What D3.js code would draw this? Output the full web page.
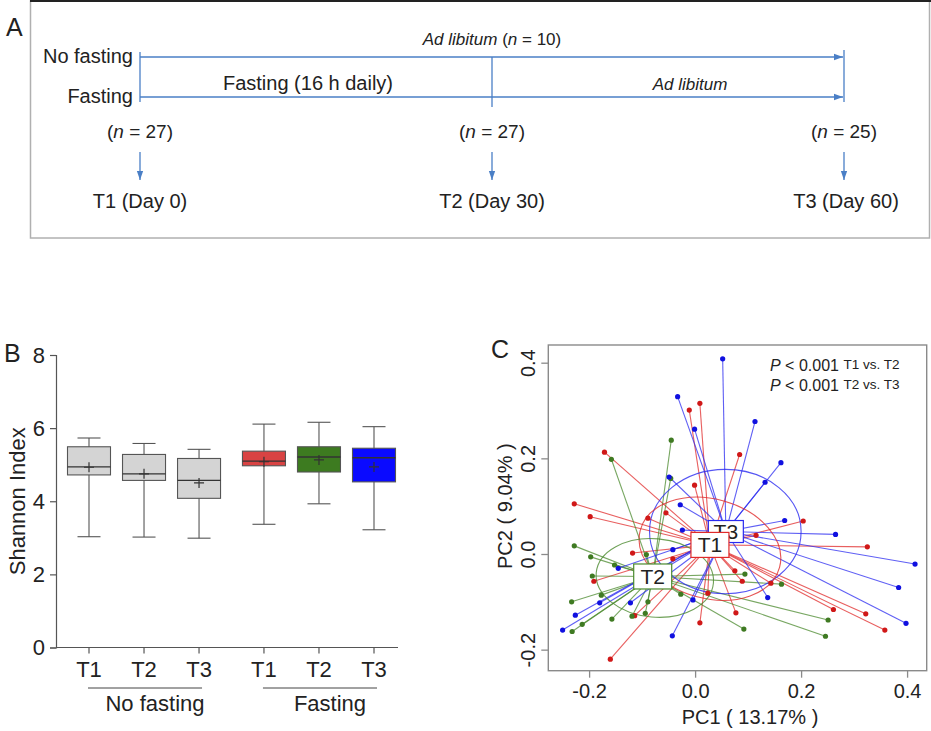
<!DOCTYPE html>
<html>
<head>
<meta charset="utf-8">
<script src="https://cdn.jsdelivr.net/npm/d3@7"></script>
<style>
  body { margin: 0; background: #fff; }
  text { font-family: "Liberation Sans", Arial, sans-serif; fill: #222; }
</style>
</head>
<body>
<div id="fig"></div>
<script>
// ---------- panel A data ----------
const timeLabels = ["T1 (Day 0)", "T2 (Day 30)", "T3 (Day 60)"];
const timeDays = [0, 30, 60];
const sampleN = [27, 27, 25];

// ---------- panel B data ----------
const boxGroups = ["T1", "T2", "T3", "T1", "T2", "T3"];
const whiskerHigh = [5.73, 5.58, 5.42, 6.11, 6.16, 6.04];
const q3 = [5.49, 5.28, 5.17, 5.37, 5.49, 5.45];
const median = [4.94, 4.75, 4.57, 5.10, 5.21, 5.19];
const q1 = [4.72, 4.57, 4.08, 4.97, 4.80, 4.53];
const whiskerLow = [3.03, 3.02, 2.99, 3.37, 3.93, 3.22];
const meanVal = [4.93, 4.75, 4.50, 5.08, 5.13, 4.94];
const boxFill = ["#d4d4d4", "#d4d4d4", "#d4d4d4", "#d94343", "#3d7b20", "#0a0aff"];
const yTicksB = [0, 2, 4, 6, 8];

// ---------- panel C data ----------
const t1Points = [[0.009,0.315],[-0.011,0.301],[-0.171,0.213],[0.084,0.208],[-0.001,0.144],[-0.228,0.105],
  [-0.198,0.078],[-0.055,0.086],[-0.089,0.075],[0.204,0.069],[0.115,0.039],[0.325,0.015],[-0.118,0.002],
  [-0.042,-0.010],[-0.191,-0.057],[0.075,-0.035],[0.143,-0.061],[0.089,-0.057],[0.261,-0.116],[0.322,-0.125],
  [0.358,-0.159],[0.077,-0.123],[0.009,-0.144],[-0.114,-0.129],[-0.160,-0.220],[0.024,-0.082]];
const t2Points = [[-0.045,0.238],[-0.158,0.198],[-0.046,0.158],[-0.228,0.017],[-0.197,-0.006],[-0.152,-0.023],
  [-0.194,-0.046],[-0.233,-0.100],[-0.177,-0.086],[-0.213,-0.147],[-0.232,-0.162],[-0.157,-0.136],[-0.119,-0.130],
  [-0.094,-0.124],[-0.089,-0.100],[-0.027,-0.084],[-0.092,-0.001],[0.094,-0.042],[0.163,-0.063],[0.251,-0.138],
  [0.246,-0.172],[0.092,-0.157]];
const t3Points = [[0.052,0.408],[-0.033,0.329],[-0.001,0.261],[0.113,0.277],[0.162,0.191],[0.132,0.150],
  [-0.049,0.161],[-0.028,0.103],[0.169,0.070],[0.265,0.041],[0.415,-0.021],[0.384,-0.070],[0.398,-0.145],
  [0.137,-0.091],[-0.004,-0.096],[-0.043,-0.171],[-0.024,0.050],[-0.042,0.009],[-0.145,-0.030],[-0.122,-0.102],
  [-0.226,-0.128],[-0.250,-0.159],[-0.180,-0.102]];
const centroidNames = ["T3", "T1", "T2"];
const centroids = [[0.058, 0.047], [0.028, 0.019], [-0.080, -0.047]];
// ellipse: cx, cy, rx, ry (data units), tilt in degrees
const ellipses = [[0.057, 0.047, 0.143, 0.130, 0], [0.028, 0.011, 0.136, 0.104, 15], [-0.076, -0.050, 0.111, 0.082, 5]];
const pcTicks = [-0.2, 0.0, 0.2, 0.4];

const W = 931, H = 731;
const svg = d3.select("#fig").append("svg")
    .attr("width", W)
    .attr("height", H);

const lineBlue = "#4a7fc6";

// ================= Panel A =================
let gA = svg.append("g");
gA.append("rect")
    .attr("x", 30.5).attr("y", 1).attr("width", 899).attr("height", 237)
    .attr("fill", "none").attr("stroke", "#b0b0b0").attr("stroke-width", 1.5);
gA.append("line")
    .attr("x1", 30).attr("x2", 931).attr("y1", 1).attr("y2", 1)
    .attr("stroke", "#222").attr("stroke-width", 2);
gA.append("text").attr("x", 6).attr("y", 36).style("font-size", "25px").text("A");

let xA = d3.scaleLinear().domain([0, 60]).range([140, 844]);

let defs = svg.append("defs");
defs.append("marker")
    .attr("id", "arr")
    .attr("viewBox", "0 0 10 10")
    .attr("refX", 10).attr("refY", 5)
    .attr("markerWidth", 7).attr("markerHeight", 7)
    .attr("orient", "auto")
    .append("path").attr("d", "M0,1.5L10,5L0,8.5Z").attr("fill", lineBlue);

// horizontal timelines
[57, 97].forEach(function (yy) {
    gA.append("line")
        .attr("x1", xA(0)).attr("x2", xA(60) - 1)
        .attr("y1", yy).attr("y2", yy)
        .attr("stroke", lineBlue).attr("stroke-width", 1.3)
        .attr("marker-end", "url(#arr)");
});
// vertical markers
gA.append("line").attr("x1", xA(0)).attr("x2", xA(0)).attr("y1", 52).attr("y2", 102)
    .attr("stroke", lineBlue).attr("stroke-width", 1.3);
gA.append("line").attr("x1", xA(30)).attr("x2", xA(30)).attr("y1", 57).attr("y2", 107)
    .attr("stroke", lineBlue).attr("stroke-width", 1.3);
gA.append("line").attr("x1", xA(60)).attr("x2", xA(60)).attr("y1", 50).attr("y2", 102)
    .attr("stroke", lineBlue).attr("stroke-width", 1.3);

gA.append("text").attr("x", 133).attr("y", 63).attr("text-anchor", "end")
    .style("font-size", "20px").text("No fasting");
gA.append("text").attr("x", 133).attr("y", 103).attr("text-anchor", "end")
    .style("font-size", "20px").text("Fasting");
gA.append("text").attr("x", 308).attr("y", 90).attr("text-anchor", "middle")
    .style("font-size", "20px").text("Fasting (16 h daily)");

let adTop = gA.append("text").attr("x", xA(30)).attr("y", 45).attr("text-anchor", "middle")
    .style("font-size", "17px");
adTop.append("tspan").style("font-style", "italic").text("Ad libitum");
adTop.append("tspan").text(" (");
adTop.append("tspan").style("font-style", "italic").text("n");
adTop.append("tspan").text(" = 10)");

gA.append("text").attr("x", 690).attr("y", 90).attr("text-anchor", "middle")
    .style("font-size", "17px").style("font-style", "italic").text("Ad libitum");

timeDays.forEach(function (d, i) {
    let cx = xA(d);
    let t = gA.append("text").attr("x", cx).attr("y", 138).attr("text-anchor", "middle")
        .style("font-size", "19px");
    t.append("tspan").text("(");
    t.append("tspan").style("font-style", "italic").text("n");
    t.append("tspan").text(" = " + sampleN[i] + ")");

    gA.append("line").attr("x1", cx).attr("x2", cx).attr("y1", 152).attr("y2", 180)
        .attr("stroke", lineBlue).attr("stroke-width", 1.3)
        .attr("marker-end", "url(#arr)");

    gA.append("text").attr("x", cx + (i == 2 ? 2 : 0)).attr("y", 208).attr("text-anchor", "middle")
        .style("font-size", "20px").text(timeLabels[i]);
});

// ================= Panel B =================
let gB = svg.append("g");
gB.append("text").attr("x", 4).attr("y", 362).style("font-size", "25px").text("B");

let yB = d3.scaleLinear().domain([0, 8]).range([647.5, 355]);
// the two groups are set a little apart
let posB = boxGroups.map(function (d, i) { return i + (i >= 3 ? 0.18 : 0); });
let xB = d3.scaleLinear().domain([0, 5.18]).range([89, 374]);

let axisCol = "#555";
gB.append("g")
    .attr("transform", "translate(56,0)")
    .call(d3.axisLeft(yB).tickValues(yTicksB).tickSize(6).tickPadding(5))
    .call(function (g) {
        g.selectAll("path, line").attr("stroke", axisCol).attr("stroke-width", 1.2);
        g.selectAll("text").style("font-size", "22px").attr("fill", "#222")
            .style("font-family", "Liberation Sans, Arial, sans-serif");
    });
gB.append("line").attr("x1", 56).attr("x2", 398).attr("y1", yB(0)).attr("y2", yB(0))
    .attr("stroke", axisCol).attr("stroke-width", 1.2);

gB.append("text")
    .attr("transform", "translate(17," + yB(4) + ")rotate(-90)")
    .attr("text-anchor", "middle").attr("dy", "0.35em")
    .style("font-size", "22px").text("Shannon Index");

let boxW = 43, capW = 23;
let boxes = gB.selectAll("g.box")
    .data(boxGroups)
    .enter()
    .append("g")
    .attr("class", "box");

boxes.each(function (d, i) {
    let g = d3.select(this);
    let cx = xB(posB[i]);
    // tick and label
    g.append("line").attr("x1", cx).attr("x2", cx).attr("y1", yB(0)).attr("y2", yB(0) + 6)
        .attr("stroke", axisCol).attr("stroke-width", 1.2);
    g.append("text").attr("x", cx).attr("y", 677).attr("text-anchor", "middle")
        .style("font-size", "22px").text(d);
    // whiskers
    g.append("line").attr("x1", cx).attr("x2", cx).attr("y1", yB(whiskerLow[i])).attr("y2", yB(whiskerHigh[i]))
        .attr("stroke", "#555").attr("stroke-width", 1.1);
    [whiskerLow[i], whiskerHigh[i]].forEach(function (v) {
        g.append("line").attr("x1", cx - capW / 2).attr("x2", cx + capW / 2).attr("y1", yB(v)).attr("y2", yB(v))
            .attr("stroke", "#555").attr("stroke-width", 1.1);
    });
    // box
    g.append("rect")
        .attr("x", cx - boxW / 2).attr("y", yB(q3[i]))
        .attr("width", boxW).attr("height", yB(q1[i]) - yB(q3[i]))
        .attr("fill", boxFill[i]).attr("stroke", "#555").attr("stroke-width", 1.1);
    g.append("line").attr("x1", cx - boxW / 2).attr("x2", cx + boxW / 2)
        .attr("y1", yB(median[i])).attr("y2", yB(median[i]))
        .attr("stroke", "#333").attr("stroke-width", 1.3);
    // mean marker
    g.append("path")
        .attr("d", "M" + (cx - 5) + "," + yB(meanVal[i]) + "h10M" + cx + "," + (yB(meanVal[i]) - 5) + "v10")
        .attr("stroke", "#333").attr("stroke-width", 1.2);
});

// group underlines
[["No fasting", 0, 2], ["Fasting", 3, 5]].forEach(function (gr) {
    let a = xB(posB[gr[1]]) - 1, b = xB(posB[gr[2]]) + 3;
    gB.append("line").attr("x1", a).attr("x2", b).attr("y1", 688).attr("y2", 688)
        .attr("stroke", "#444").attr("stroke-width", 1);
    gB.append("text").attr("x", (a + b) / 2 + 10).attr("y", 711).attr("text-anchor", "middle")
        .style("font-size", "22px").text(gr[0]);
});

// ================= Panel C =================
let gC = svg.append("g");
gC.append("text").attr("x", 491).attr("y", 358).style("font-size", "25px").text("C");

let xC = d3.scaleLinear().domain([-0.277, 0.437]).range([548.3, 926.7]);
let yC = d3.scaleLinear().domain([-0.244, 0.437]).range([670.7, 345]);
let fmt = function (v) { return d3.format(".1f")(v).replace("\u2212", "-"); };

let frameCol = "#8a8a8a";
gC.append("g")
    .attr("transform", "translate(0,670.7)")
    .call(d3.axisBottom(xC).tickValues(pcTicks).tickFormat(fmt).tickSize(7).tickPadding(6))
    .call(function (g) {
        g.select(".domain").remove();
        g.selectAll("line").attr("stroke", frameCol).attr("stroke-width", 1.3);
        g.selectAll("text").style("font-size", "20px").attr("fill", "#222")
            .style("font-family", "Liberation Sans, Arial, sans-serif");
    });
gC.append("g")
    .attr("transform", "translate(548.3,0)")
    .call(d3.axisLeft(yC).tickValues(pcTicks).tickFormat(fmt).tickSize(7).tickPadding(6))
    .call(function (g) {
        g.select(".domain").remove();
        g.selectAll("line").attr("stroke", frameCol).attr("stroke-width", 1.3);
        g.selectAll("text").style("font-size", "20px").attr("fill", "#222")
            .style("font-family", "Liberation Sans, Arial, sans-serif")
            .attr("text-anchor", "middle")
            .attr("x", -20).attr("dy", "0")
            .attr("transform", function () { return "rotate(-90,-20,0)"; })
            .attr("y", 7);
    });
gC.append("rect")
    .attr("x", 548.3).attr("y", 345).attr("width", 926.7 - 548.3).attr("height", 670.7 - 345)
    .attr("fill", "none").attr("stroke", frameCol).attr("stroke-width", 1.4);

gC.append("text").attr("x", 750).attr("y", 724).attr("text-anchor", "middle")
    .style("font-size", "20px").text("PC1 ( 13.17% )");
gC.append("text")
    .attr("transform", "translate(505," + yC(0.1) + ")rotate(-90)")
    .attr("text-anchor", "middle").attr("dy", "0.35em")
    .style("font-size", "20px").text("PC2 ( 9.04% )");

// p-value notes
[["T1 vs. T2", 371], ["T2 vs. T3", 391]].forEach(function (p) {
    let t = gC.append("text").attr("x", 770).attr("y", p[1]).style("font-size", "16px").attr("fill", "#333");
    t.append("tspan").style("font-style", "italic").text("P");
    t.append("tspan").text(" < 0.001 ");
    t.append("tspan").style("font-size", "13.5px").attr("dy", -2).text(p[0]);
});

let groupCols = { T1: "#e02a2a", T2: "#4b8a2e", T3: "#2a2af0" };
let dotCols = { T1: "#d01818", T2: "#3f7a22", T3: "#1010e0" };
let ellCols = ["T3", "T1", "T2"];

let clip = defs.append("clipPath").attr("id", "clipC");
clip.append("rect").attr("x", 549).attr("y", 346).attr("width", 377).attr("height", 324);
let plotC = gC.append("g").attr("clip-path", "url(#clipC)");

let groupPoints = [["T1", t1Points], ["T2", t2Points], ["T3", t3Points]];
let cMap = {};
centroidNames.forEach(function (n, i) { cMap[n] = centroids[i]; });

// spider lines
groupPoints.forEach(function (gp) {
    let c = cMap[gp[0]];
    plotC.append("g")
        .selectAll("line")
        .data(gp[1])
        .enter()
        .append("line")
        .attr("x1", xC(c[0])).attr("y1", yC(c[1]))
        .attr("x2", function (d) { return xC(d[0]); })
        .attr("y2", function (d) { return yC(d[1]); })
        .attr("stroke", groupCols[gp[0]])
        .attr("stroke-opacity", 0.75)
        .attr("stroke-width", 1.1);
});

// ellipses
ellipses.forEach(function (e, i) {
    plotC.append("ellipse")
        .attr("transform", "translate(" + xC(e[0]) + "," + yC(e[1]) + ")rotate(" + e[4] + ")")
        .attr("rx", xC(e[2]) - xC(0))
        .attr("ry", yC(0) - yC(e[3]))
        .attr("fill", "none")
        .attr("stroke", groupCols[ellCols[i]])
        .attr("stroke-opacity", 0.8)
        .attr("stroke-width", 1.1);
});

// points
groupPoints.forEach(function (gp) {
    plotC.append("g")
        .selectAll("circle")
        .data(gp[1])
        .enter()
        .append("circle")
        .attr("cx", function (d) { return xC(d[0]); })
        .attr("cy", function (d) { return yC(d[1]); })
        .attr("r", 2.6)
        .attr("fill", dotCols[gp[0]]);
});

// centroid labels
centroidNames.forEach(function (n, i) {
    let cx = xC(centroids[i][0]), cy = yC(centroids[i][1]);
    let bw = n == "T3" ? 35 : 38, bh = n == "T3" ? 22 : 25;
    plotC.append("rect")
        .attr("x", cx - bw / 2).attr("y", cy - bh / 2)
        .attr("width", bw).attr("height", bh)
        .attr("fill", "#fff")
        .attr("stroke", groupCols[n]).attr("stroke-width", 1.2);
    plotC.append("text")
        .attr("x", cx).attr("y", cy).attr("dy", "0.36em")
        .attr("text-anchor", "middle")
        .style("font-size", "21px")
        .text(n);
});
</script>
</body>
</html>
